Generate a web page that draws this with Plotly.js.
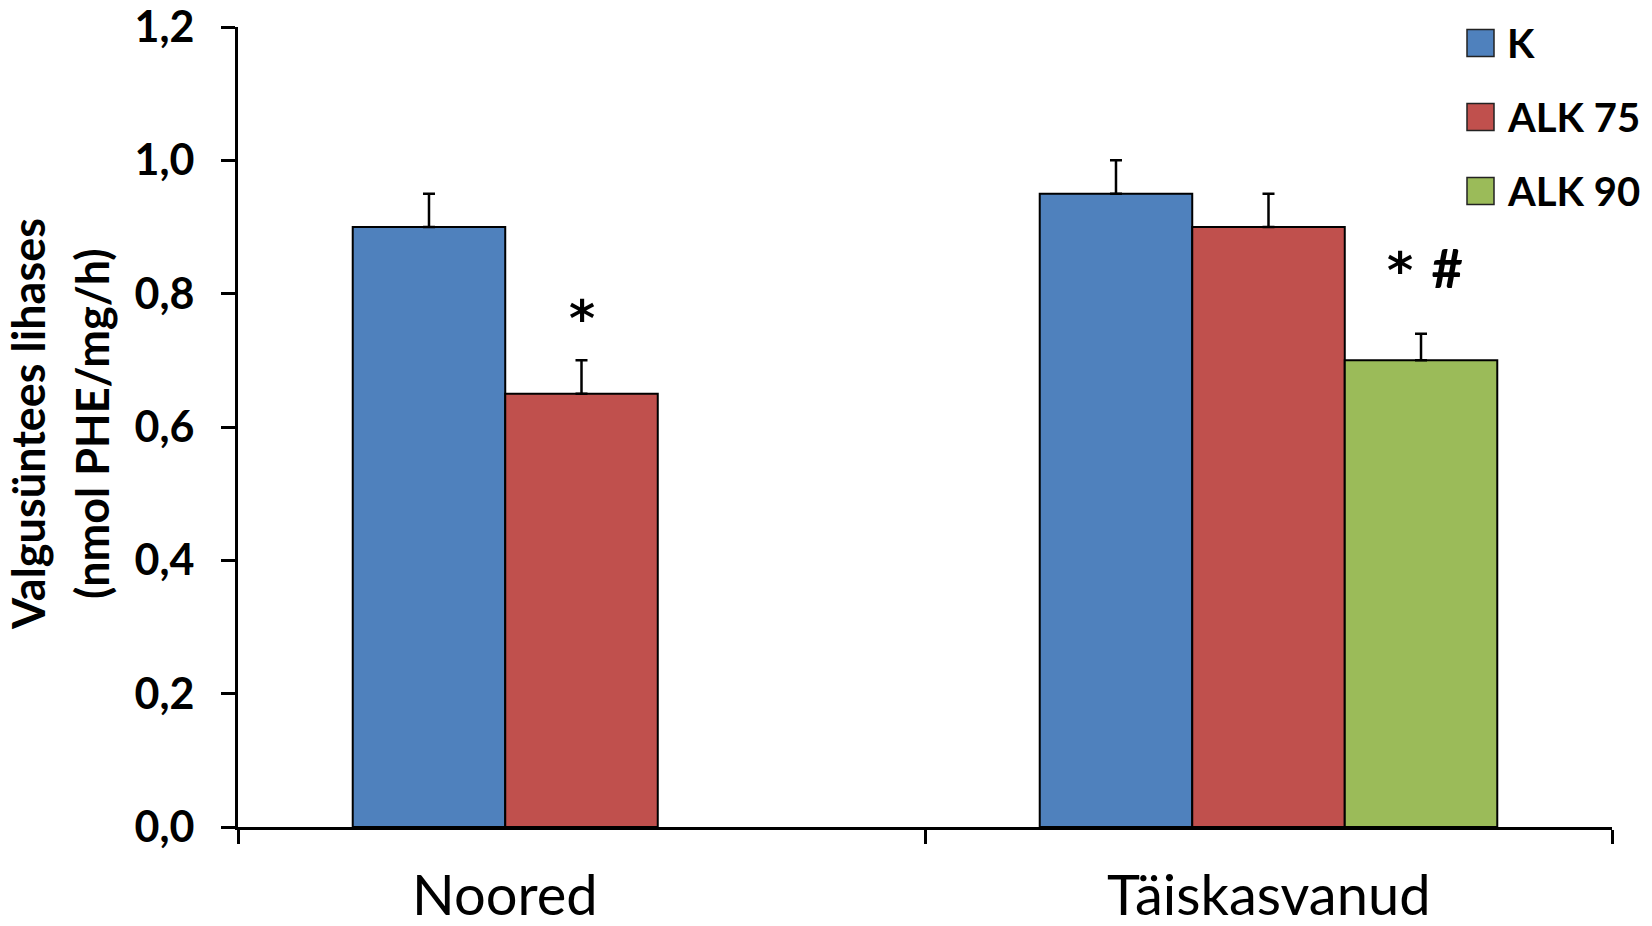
<!DOCTYPE html>
<html>
<head>
<meta charset="utf-8">
<script src="https://cdn.plot.ly/plotly-3.0.1.min.js"></script>
<style>html,body{margin:0;padding:0;background:#fff;}</style>
</head>
<body>
<div id="chart" style="width:1652px;height:926px;"></div>
<script>
// ---- data ----
var categories = ["Noored", "Täiskasvanud"];
var seriesNames = ["K", "ALK 75", "ALK 90"];
var valuesK = [0.90, 0.95];
var valuesALK75 = [0.65, 0.90];
var valuesALK90 = [null, 0.70];
var errK = [0.05, 0.05];
var errALK75 = [0.05, 0.05];
var errALK90 = [0, 0.04];
var yTickVals = [0, 0.2, 0.4, 0.6, 0.8, 1.0, 1.2];
var yTitleLines = ["Valgusüntees lihases", "(nmol PHE/mg/h)"];
var markY = [0.7625, 0.84];

var colors = ["#4F81BD", "#C0504D", "#9BBB59"];
var allValues = [valuesK, valuesALK75, valuesALK90];
var allErr = [errK, errALK75, errALK90];

var W = 1652, H = 926;
var mL = 238, mR = 40, mT = 27, mB = 99;
var pw = W - mL - mR, ph = H - mT - mB;
var FONT = "Lato, 'Open Sans', sans-serif";
var BARGAP = 0.334;
var barW = (1 - BARGAP) / seriesNames.length;

var traces = seriesNames.map(function (name, i) {
  return {
    type: "bar",
    name: name,
    x: categories,
    y: allValues[i],
    marker: { color: colors[i], line: { color: "#000", width: 2 } },
    error_y: {
      type: "data", symmetric: false, array: allErr[i],
      arrayminus: allErr[i].map(function () { return 0; }),
      color: "#000", thickness: 2.5, width: 6, visible: true
    },
    showlegend: false,
    hoverinfo: "x+y"
  };
});

function px2x(px) { return (px - mL) / pw; }
function py2y(py) { return (H - mB - py) / ph; }

var shapes = [];
var annotations = [];
seriesNames.forEach(function (name, i) {
  var cy = 43 + 74 * i;
  shapes.push({
    type: "rect", xref: "paper", yref: "paper",
    x0: px2x(1467), x1: px2x(1494), y0: py2y(cy + 13.5), y1: py2y(cy - 13.5),
    fillcolor: colors[i], line: { color: "#222", width: 1.5 }
  });
  annotations.push({
    xref: "paper", yref: "paper", x: px2x(1505), y: py2y(cy),
    xanchor: "left", yanchor: "middle", showarrow: false, text: name,
    font: { family: FONT, size: 40, weight: "bold", color: "#000" }
  });
});

// y-axis title, two lines
yTitleLines.forEach(function (t, i) {
  annotations.push({
    xref: "paper", yref: "paper", x: px2x(28 + 64 * i), y: py2y(424),
    xanchor: "center", yanchor: "middle", textangle: -90, showarrow: false,
    text: t, font: { family: FONT, size: 45, weight: "bold", color: "#000" }
  });
});

// category labels (Noored is centred under its two drawn bars)
categories.forEach(function (c, i) {
  annotations.push({
    x: i === 0 ? i - barW / 2 : i, xref: "x", yref: "paper", y: py2y(893),
    xanchor: "center", yanchor: "middle", showarrow: false, text: c,
    font: { family: FONT, size: 56, color: "#000" }
  });
});

// significance marks
var STAR = "<span style='font-family:DejaVu Sans'>*</span>";
annotations.push({
  x: 0, y: markY[0], xref: "x", yref: "y", showarrow: false, text: STAR,
  xanchor: "center", yanchor: "middle",
  font: { family: FONT, size: 50, weight: "bold", color: "#000" }
});
annotations.push({
  x: 1 + barW, y: markY[1], xref: "x", yref: "y", showarrow: false, xshift: 4,
  text: STAR + " \u2009<span style='font-size:54px'>#</span>",
  xanchor: "center", yanchor: "middle",
  font: { family: FONT, size: 50, weight: "bold", color: "#000" }
});

var layout = {
  width: W, height: H,
  margin: { l: mL, r: mR, t: mT, b: mB, pad: 0 },
  paper_bgcolor: "#fff", plot_bgcolor: "#fff",
  separators: ", ",
  barmode: "group", bargap: BARGAP, bargroupgap: 0,
  showlegend: false,
  xaxis: {
    type: "category", showline: true, linecolor: "#000", linewidth: 3,
    ticks: "outside", tickson: "boundaries", ticklen: 14, tickwidth: 3, tickcolor: "#000",
    showticklabels: false,
    showgrid: false, zeroline: false, automargin: false, fixedrange: true
  },
  yaxis: {
    range: [0, 1.2], tickvals: yTickVals, tickformat: ".1f",
    showline: true, linecolor: "#000", linewidth: 3,
    ticks: "outside", ticklen: 14, tickwidth: 3, tickcolor: "#000",
    ticklabelstandoff: 18, ticklabeloverflow: "allow",
    tickfont: { family: FONT, size: 43, weight: "bold", color: "#000" },
    showgrid: false, zeroline: false, automargin: false, fixedrange: true
  },
  shapes: shapes,
  annotations: annotations
};

Plotly.newPlot("chart", traces, layout, { displayModeBar: false, staticPlot: true });
</script>
</body>
</html>
